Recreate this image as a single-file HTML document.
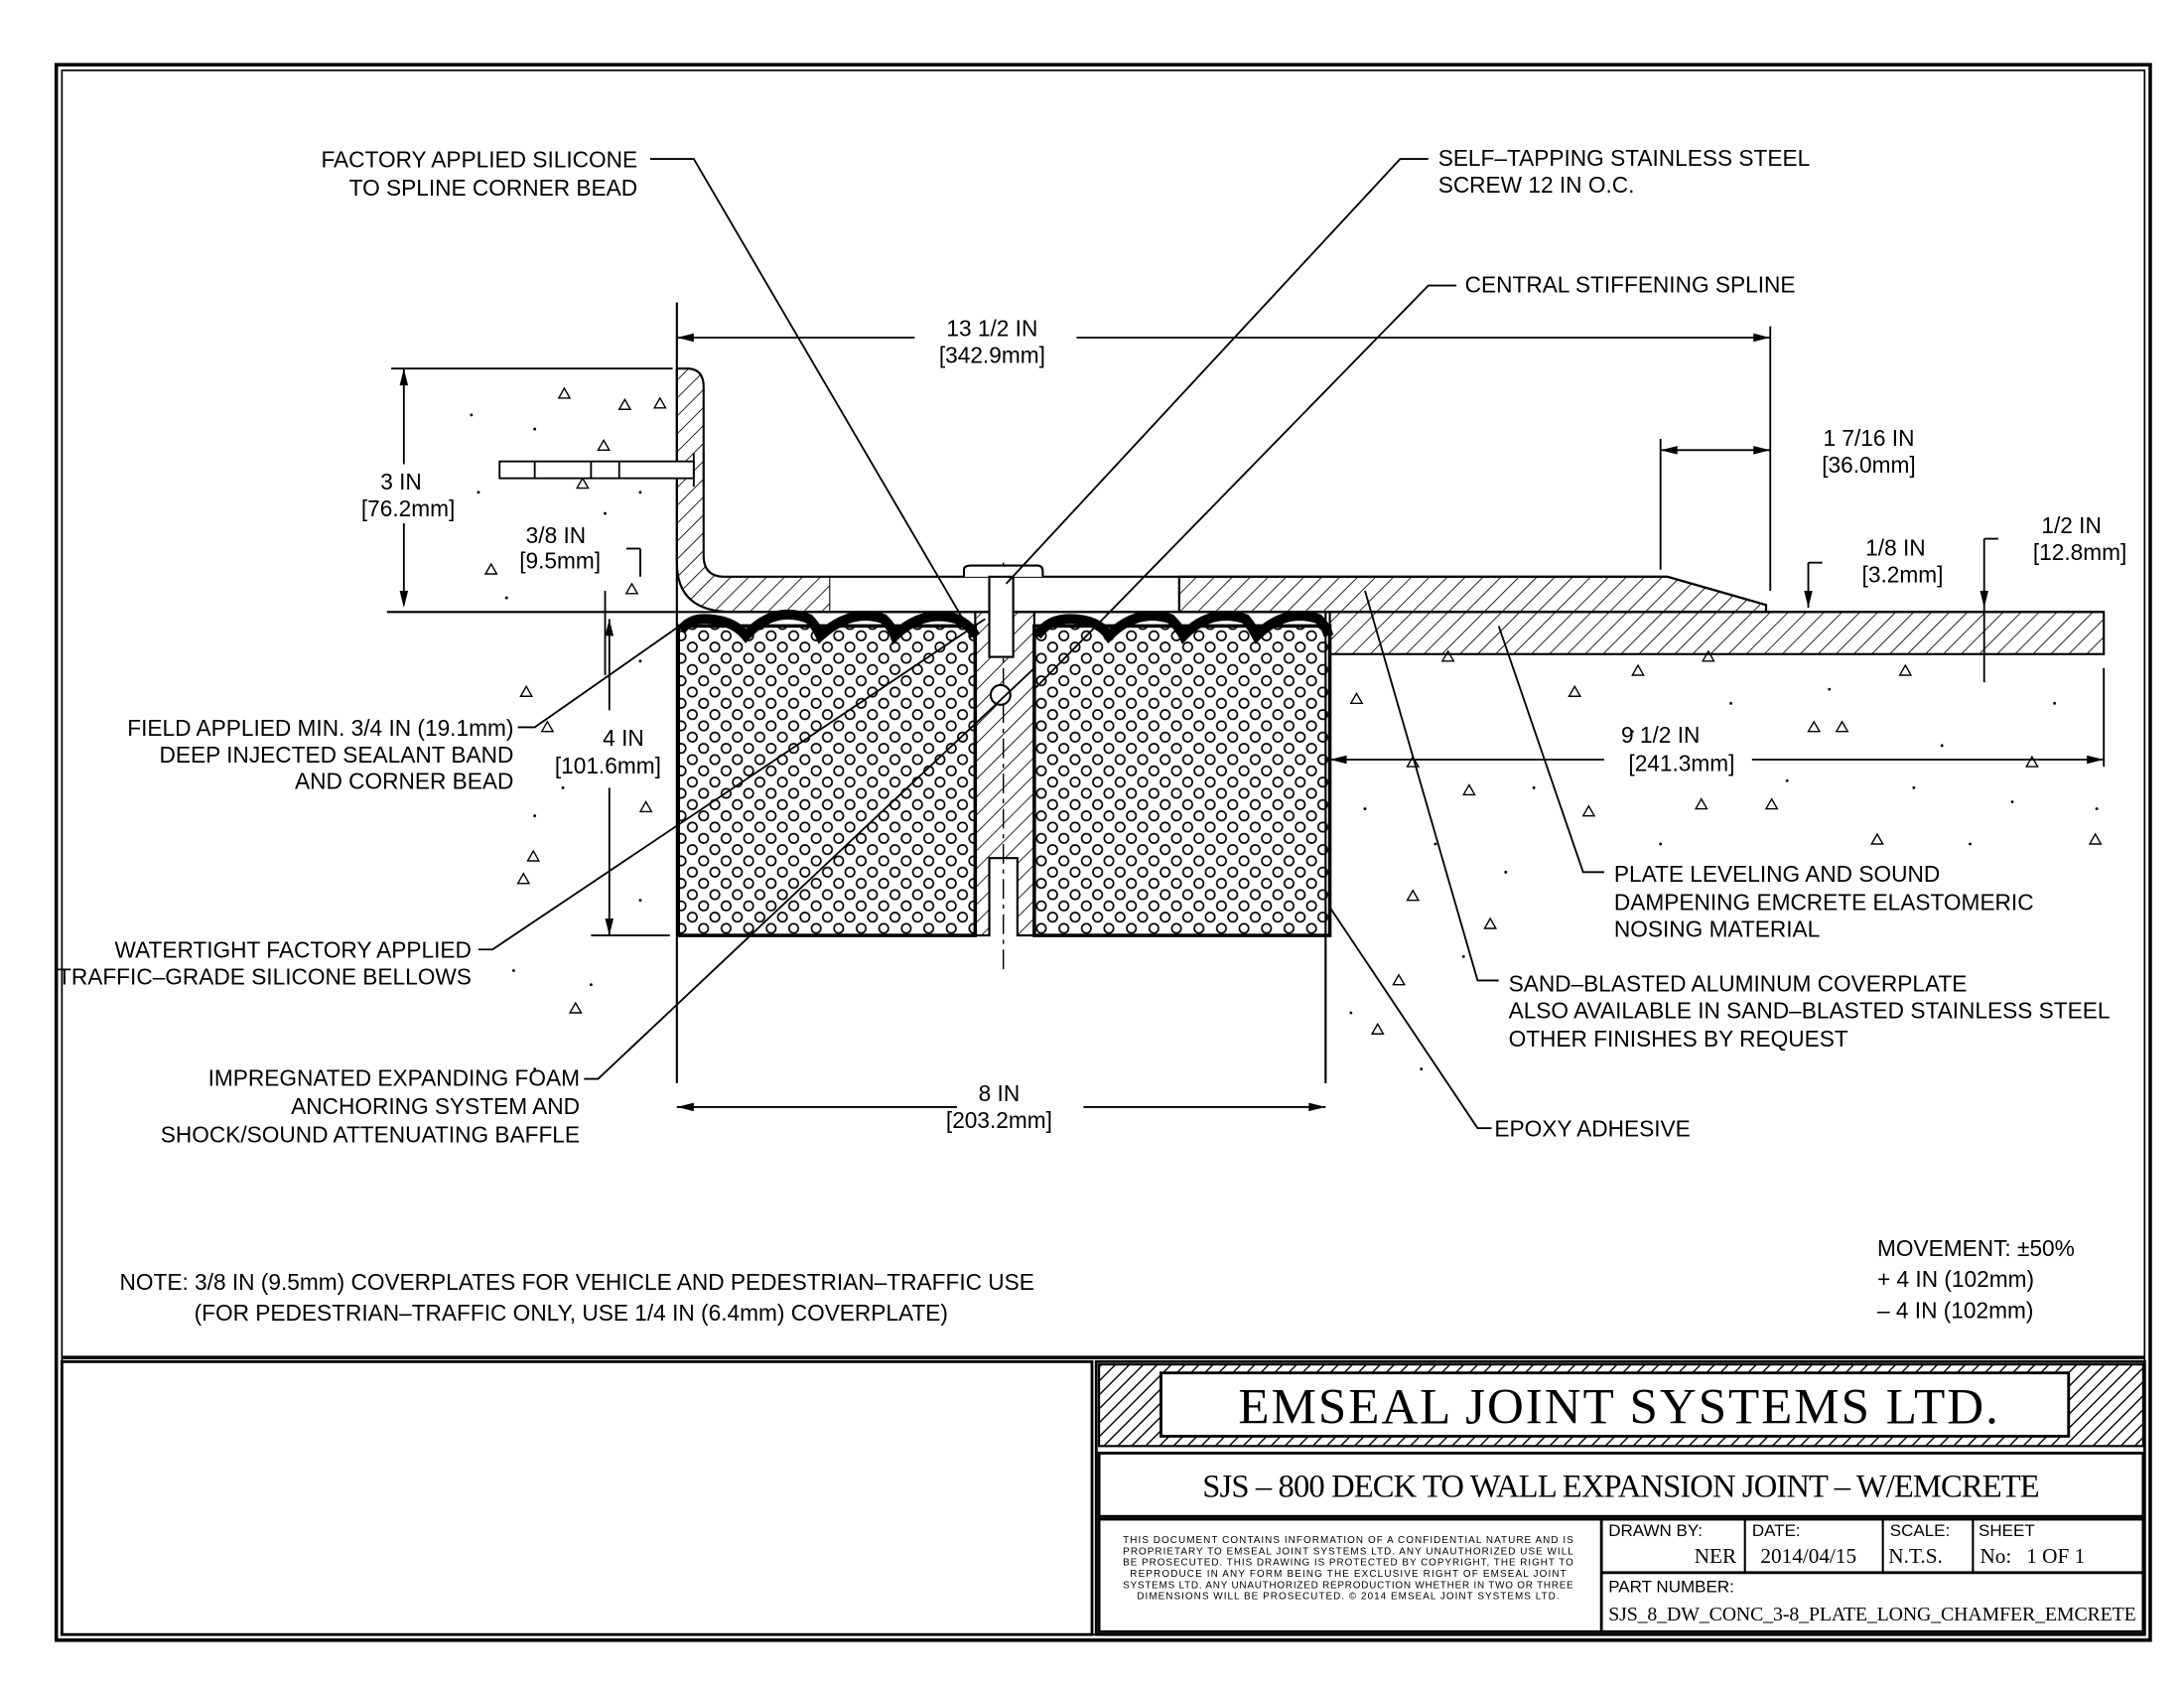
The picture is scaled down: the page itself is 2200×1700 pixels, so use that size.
<!DOCTYPE html>
<html><head><meta charset="utf-8"><style>
html,body{margin:0;padding:0;background:#fff;}
svg{display:block;font-family:"Liberation Sans Narrow","Liberation Sans",sans-serif;font-size:16px;}
text{fill:#000;}
.s, .s text{font-family:"Liberation Serif",serif;}
</style></head><body>
<svg width="2200" height="1700" viewBox="0 0 1552 1200" preserveAspectRatio="none" xmlns="http://www.w3.org/2000/svg">
<defs>
<pattern id="h" width="9" height="9" patternUnits="userSpaceOnUse" patternTransform="rotate(45)"><line x1="0" y1="0" x2="0" y2="9" stroke="#000" stroke-width="1.2"/></pattern>
<pattern id="h2" width="7" height="7" patternUnits="userSpaceOnUse" patternTransform="rotate(45)"><line x1="0" y1="0" x2="0" y2="7" stroke="#000" stroke-width="2"/></pattern>
<pattern id="f" width="16" height="16" patternUnits="userSpaceOnUse"><circle cx="4" cy="4" r="3.3" fill="none" stroke="#000" stroke-width="1.2"/><circle cx="12" cy="12" r="3.3" fill="none" stroke="#000" stroke-width="1.2"/></pattern>
</defs>
<g fill="none" stroke="#000">
<rect x="40" y="46" width="1488" height="1120" stroke-width="2.5"/>
<rect x="44" y="50" width="1480" height="1112" stroke-width="1.2"/>
<line x1="44" y1="965" x2="1524" y2="965" stroke-width="2.5"/>
<rect x="44" y="968" width="732" height="194" stroke-width="2"/>
<rect x="779" y="968" width="745" height="194" stroke-width="2"/>
<rect x="781" y="970" width="742" height="58" fill="url(#h2)" stroke-width="1.5"/>
<rect x="825" y="976" width="645" height="45" fill="#fff" stroke-width="2"/>
<rect x="781" y="1033" width="742" height="45" stroke-width="2"/>
<rect x="781" y="1080" width="742" height="80" stroke-width="2"/>
<line x1="1138" y1="1080" x2="1138" y2="1160" stroke-width="2"/>
<line x1="1138" y1="1118" x2="1523" y2="1118" stroke-width="2"/>
<line x1="1240" y1="1080" x2="1240" y2="1118" stroke-width="1.5"/>
<line x1="1338" y1="1080" x2="1338" y2="1118" stroke-width="1.5"/>
<line x1="1402" y1="1080" x2="1402" y2="1118" stroke-width="1.5"/>
</g>
<text x="1150" y="1012" text-anchor="middle" class="s" style="font-size:36px" textLength="540">EMSEAL JOINT SYSTEMS LTD.</text>
<text x="1152" y="1064" text-anchor="middle" class="s" style="font-size:23px" textLength="595">SJS – 800 DECK TO WALL EXPANSION JOINT – W/EMCRETE</text>
<g style="font-size:7px" text-anchor="middle">
<text x="958" y="1097" textLength="320">THIS DOCUMENT CONTAINS INFORMATION OF A CONFIDENTIAL NATURE AND IS</text>
<text x="958" y="1105" textLength="320">PROPRIETARY TO EMSEAL JOINT SYSTEMS LTD. ANY UNAUTHORIZED USE WILL</text>
<text x="958" y="1113" textLength="320">BE PROSECUTED. THIS DRAWING IS PROTECTED BY COPYRIGHT, THE RIGHT TO</text>
<text x="958" y="1121" textLength="310">REPRODUCE IN ANY FORM BEING THE EXCLUSIVE RIGHT OF EMSEAL JOINT</text>
<text x="958" y="1129" textLength="320">SYSTEMS LTD. ANY UNAUTHORIZED REPRODUCTION WHETHER IN TWO OR THREE</text>
<text x="958" y="1137" textLength="300">DIMENSIONS WILL BE PROSECUTED. © 2014 EMSEAL JOINT SYSTEMS LTD.</text>
</g>
<g style="font-size:12px">
<text x="1143" y="1092">DRAWN BY:</text><text x="1245" y="1092">DATE:</text><text x="1343" y="1092">SCALE:</text><text x="1406" y="1092">SHEET</text>
<text x="1143" y="1132">PART NUMBER:</text>
</g>
<g class="s" style="font-size:15px">
<text x="1234" y="1111" text-anchor="end">NER</text>
<text x="1251" y="1111">2014/04/15</text>
<text x="1342" y="1111">N.T.S.</text>
<text x="1407" y="1111">No:</text>
<text x="1440" y="1111">1 OF 1</text>
<text x="1143" y="1152" style="font-size:14px" textLength="375">SJS_8_DW_CONC_3-8_PLATE_LONG_CHAMFER_EMCRETE</text>
</g>

<!-- drawing -->
<g stroke="#000" fill="none" stroke-width="1.5">
<line x1="481" y1="215" x2="481" y2="770"/>
<path d="M481 262 L488 262 Q500 262 500 275 L500 395 Q500 410 515 410 L590 410 L590 435 L520 435 Q481 435 481 400 Z" fill="url(#h)"/>
<path d="M590 410 L1185 410 L1255 430 L1255 435 L590 435" fill="#fff"/>
<path d="M838 410 L1185 410 L1255 430 L1255 435 L838 435 Z" fill="url(#h)"/>
<line x1="838" y1="410" x2="838" y2="435"/>
<line x1="275" y1="435" x2="1495" y2="435"/>
<rect x="945" y="435" width="550" height="30" fill="url(#h)"/>
<rect x="482" y="445" width="211" height="220" fill="url(#f)" stroke-width="2.5"/>
<rect x="735" y="445" width="210" height="220" fill="url(#f)" stroke-width="2.5"/>
<path d="M693 435 L735 435 L735 665 L723 665 L723 610 L703 610 L703 665 L693 665 Z" fill="url(#h)"/>
<line x1="713" y1="400" x2="713" y2="690" stroke-dasharray="14 4 3 4" stroke-width="1"/>
<path d="M685 410 L685 405 Q685 402 690 402 L737 402 Q741 402 741 406 L741 410" fill="#fff"/>
<rect x="703" y="410" width="17" height="57" fill="#fff"/>
<circle cx="711" cy="494" r="7" fill="#fff"/>
<path d="M484 448 Q490 440 500 440 Q520 440 530 452 Q550 430 575 440 Q580 445 583 452 Q605 432 628 440 Q634 446 636 452 Q655 433 680 440 Q690 445 693 452" stroke-width="7"/>
<path d="M737 452 Q745 440 760 440 Q780 440 788 452 Q808 432 832 440 Q838 446 841 452 Q860 432 885 440 Q890 446 893 452 Q913 432 937 440 Q943 446 944 452" stroke-width="7"/>
<line x1="942" y1="435" x2="942" y2="770"/>
</g>

<!-- dimensions -->
<g stroke="#000" stroke-width="1.3" fill="#000">
<line x1="481" y1="240" x2="650" y2="240"/><line x1="765" y1="240" x2="1258" y2="240"/>
<line x1="1258" y1="232" x2="1258" y2="420"/>
<line x1="481" y1="787" x2="680" y2="787"/><line x1="770" y1="787" x2="942" y2="787"/>
<line x1="433" y1="440" x2="433" y2="505"/><line x1="433" y1="560" x2="433" y2="665"/>
<line x1="420" y1="665" x2="476" y2="665"/>
<line x1="287" y1="262" x2="287" y2="330"/><line x1="287" y1="372" x2="287" y2="430"/>
<line x1="278" y1="262" x2="478" y2="262"/>
<line x1="1180" y1="320" x2="1258" y2="320"/><line x1="1180" y1="312" x2="1180" y2="405"/>
<line x1="945" y1="540" x2="1140" y2="540"/><line x1="1245" y1="540" x2="1495" y2="540"/>
<line x1="1495" y1="475" x2="1495" y2="545"/>
<line x1="1410" y1="383" x2="1420" y2="383"/><line x1="1410" y1="383" x2="1410" y2="485"/>
<line x1="1285" y1="400" x2="1295" y2="400"/><line x1="1285" y1="400" x2="1285" y2="432"/>
<line x1="445" y1="390" x2="455" y2="390"/><line x1="455" y1="390" x2="455" y2="410"/>
<line x1="430" y1="420" x2="430" y2="480"/>
</g>
<g fill="#000">
<path d="M481 240 l12 -3 v6z"/><path d="M1258 240 l-12 -3 v6z"/>
<path d="M481 787 l12 -3 v6z"/><path d="M942 787 l-12 -3 v6z"/>
<path d="M433 440 l-3 12 h6z"/><path d="M433 665 l-3 -12 h6z"/>
<path d="M287 262 l-3 12 h6z"/><path d="M287 432 l-3 -12 h6z"/>
<path d="M1180 320 l12 -3 v6z"/><path d="M1258 320 l-12 -3 v6z"/>
<path d="M945 540 l12 -3 v6z"/><path d="M1495 540 l-12 -3 v6z"/>
<path d="M1410 432 l-3 -12 h6z"/><path d="M1285 432 l-3 -12 h6z"/>
</g>

<!-- leaders -->
<g stroke="#000" stroke-width="1.3" fill="none">
<polyline points="462,113 493,113 693,455"/>
<polyline points="1015,113 995,113 715,415"/>
<polyline points="1035,203 1015,203 735,490"/>
<polyline points="368,517 380,517 490,440"/>
<polyline points="340,675 350,675 700,440"/>
<polyline points="415,767 425,767 735,475"/>
<polyline points="1140,620 1125,620 1065,445"/>
<polyline points="1065,697 1050,697 970,420"/>
<polyline points="1060,802 1050,802 945,645"/>
</g>

<g>
<text x="453" y="119" text-anchor="end">FACTORY APPLIED SILICONE</text>
<text x="453" y="139" text-anchor="end">TO SPLINE CORNER BEAD</text>
<text x="1022" y="118">SELF–TAPPING STAINLESS STEEL</text>
<text x="1022" y="137">SCREW 12 IN O.C.</text>
<text x="1041" y="208">CENTRAL STIFFENING SPLINE</text>
<text x="705" y="239" text-anchor="middle">13 1/2 IN</text>
<text x="705" y="258" text-anchor="middle">[342.9mm]</text>
<text x="1328" y="317" text-anchor="middle">1 7/16 IN</text>
<text x="1328" y="336" text-anchor="middle">[36.0mm]</text>
<text x="285" y="348" text-anchor="middle">3 IN</text>
<text x="290" y="367" text-anchor="middle">[76.2mm]</text>
<text x="395" y="386" text-anchor="middle">3/8 IN</text>
<text x="398" y="404" text-anchor="middle">[9.5mm]</text>
<text x="1347" y="395" text-anchor="middle">1/8 IN</text>
<text x="1352" y="414" text-anchor="middle">[3.2mm]</text>
<text x="1472" y="379" text-anchor="middle">1/2 IN</text>
<text x="1478" y="398" text-anchor="middle">[12.8mm]</text>
<text x="365" y="523" text-anchor="end">FIELD APPLIED MIN. 3/4 IN (19.1mm)</text>
<text x="365" y="542" text-anchor="end">DEEP INJECTED SEALANT BAND</text>
<text x="365" y="561" text-anchor="end">AND CORNER BEAD</text>
<text x="443" y="530" text-anchor="middle">4 IN</text>
<text x="432" y="550" text-anchor="middle">[101.6mm]</text>
<text x="1180" y="528" text-anchor="middle">9 1/2 IN</text>
<text x="1195" y="548" text-anchor="middle">[241.3mm]</text>
<text x="1147" y="627">PLATE LEVELING AND SOUND</text>
<text x="1147" y="647">DAMPENING EMCRETE ELASTOMERIC</text>
<text x="1147" y="666">NOSING MATERIAL</text>
<text x="335" y="681" text-anchor="end">WATERTIGHT FACTORY APPLIED</text>
<text x="335" y="700" text-anchor="end">TRAFFIC–GRADE SILICONE BELLOWS</text>
<text x="1072" y="705">SAND–BLASTED ALUMINUM COVERPLATE</text>
<text x="1072" y="724">ALSO AVAILABLE IN SAND–BLASTED STAINLESS STEEL</text>
<text x="1072" y="744">OTHER FINISHES BY REQUEST</text>
<text x="412" y="772" text-anchor="end">IMPREGNATED EXPANDING FOAM</text>
<text x="412" y="792" text-anchor="end">ANCHORING SYSTEM AND</text>
<text x="412" y="812" text-anchor="end">SHOCK/SOUND ATTENUATING BAFFLE</text>
<text x="710" y="783" text-anchor="middle">8 IN</text>
<text x="710" y="802" text-anchor="middle">[203.2mm]</text>
<text x="1062" y="808">EPOXY ADHESIVE</text>
<text x="85" y="917">NOTE: 3/8 IN (9.5mm) COVERPLATES FOR VEHICLE AND PEDESTRIAN–TRAFFIC USE</text>
<text x="138" y="939">(FOR PEDESTRIAN–TRAFFIC ONLY, USE 1/4 IN (6.4mm) COVERPLATE)</text>
<text x="1334" y="893">MOVEMENT: ±50%</text>
<text x="1334" y="915">+ 4 IN (102mm)</text>
<text x="1334" y="937">– 4 IN (102mm)</text>
</g>

<g fill="none" stroke="#000" stroke-width="1">
<path d="M397 283 l4 -7 l4 7z M440 291 l4 -7 l4 7z M465 290 l4 -7 l4 7z M425 320 l4 -7 l4 7z M410 347 l4 -7 l4 7z M345 408 l4 -7 l4 7z M445 422 l4 -7 l4 7z M370 495 l4 -7 l4 7z M385 520 l4 -7 l4 7z M455 577 l4 -7 l4 7z M375 612 l4 -7 l4 7z M368 628 l4 -7 l4 7z M405 720 l4 -7 l4 7z M960 500 l4 -7 l4 7z M1000 545 l4 -7 l4 7z M1040 565 l4 -7 l4 7z M1125 580 l4 -7 l4 7z M1205 575 l4 -7 l4 7z M1255 575 l4 -7 l4 7z M990 700 l4 -7 l4 7z M975 735 l4 -7 l4 7z M1055 660 l4 -7 l4 7z M1285 520 l4 -7 l4 7z M1305 520 l4 -7 l4 7z M1440 545 l4 -7 l4 7z M1485 600 l4 -7 l4 7z M1025 470 l4 -7 l4 7z M1115 495 l4 -7 l4 7z M1210 470 l4 -7 l4 7z M1350 480 l4 -7 l4 7z M1160 480 l4 -7 l4 7z M1330 600 l4 -7 l4 7z M1000 640 l4 -7 l4 7z"/>
</g>
<g fill="#000">
<circle cx="335" cy="295" r="1"/><circle cx="380" cy="305" r="1"/><circle cx="360" cy="330" r="1"/><circle cx="455" cy="350" r="1"/>
<circle cx="340" cy="350" r="1"/><circle cx="430" cy="365" r="1"/><circle cx="360" cy="425" r="1"/><circle cx="455" cy="470" r="1"/>
<circle cx="400" cy="560" r="1"/><circle cx="380" cy="580" r="1"/><circle cx="455" cy="640" r="1"/><circle cx="365" cy="690" r="1"/>
<circle cx="420" cy="700" r="1"/><circle cx="380" cy="760" r="1"/><circle cx="970" cy="575" r="1"/><circle cx="1020" cy="600" r="1"/>
<circle cx="1090" cy="560" r="1"/><circle cx="1160" cy="520" r="1"/><circle cx="1230" cy="500" r="1"/><circle cx="1300" cy="490" r="1"/>
<circle cx="1380" cy="530" r="1"/><circle cx="1430" cy="570" r="1"/><circle cx="1460" cy="500" r="1"/><circle cx="1490" cy="575" r="1"/>
<circle cx="1360" cy="560" r="1"/><circle cx="1270" cy="555" r="1"/><circle cx="1010" cy="760" r="1"/><circle cx="960" cy="720" r="1"/>
<circle cx="1040" cy="680" r="1"/><circle cx="1070" cy="620" r="1"/><circle cx="1180" cy="600" r="1"/><circle cx="1400" cy="600" r="1"/>
</g>
<g stroke="#000" stroke-width="1.3" fill="#fff">
<rect x="355" y="328" width="138" height="12"/>
<line x1="493" y1="322" x2="493" y2="346"/><line x1="500" y1="322" x2="500" y2="346"/>
<line x1="380" y1="328" x2="380" y2="340"/><line x1="420" y1="328" x2="420" y2="340"/><line x1="440" y1="328" x2="440" y2="340"/>
</g>
</svg>
</body></html>
